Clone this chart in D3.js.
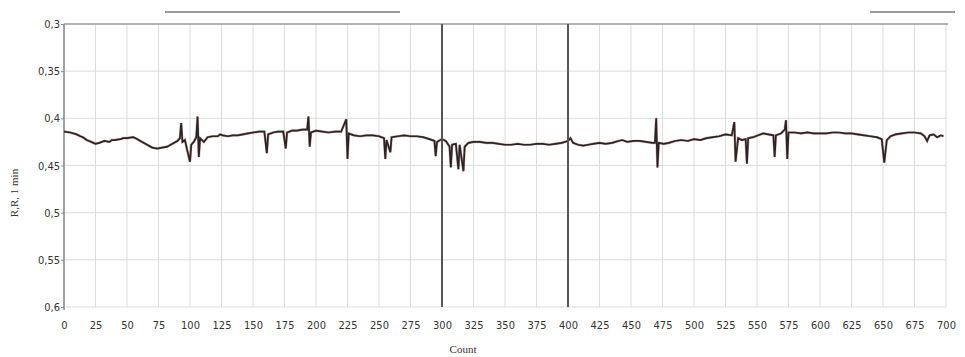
<!DOCTYPE html>
<html>
<head>
<meta charset="utf-8">
<script src="https://cdn.jsdelivr.net/npm/d3@7"></script>
<style>
  body { margin: 0; background: #fff; }
</style>
</head>
<body>
<svg id="chart" width="965" height="357"></svg>
<script>
// R-R interval series: [count, value]
const rrData = [
  [0,0.414],[5,0.415],[10,0.417],[13,0.419],[15,0.420],[18,0.423],[20,0.424],[25,0.427],[28,0.426],[32,0.424],
  [36,0.425],[38,0.423],[40,0.423],[45,0.422],[47,0.421],[50,0.421],[55,0.420],[58,0.422],[62,0.425],[66,0.428],
  [70,0.431],[74,0.432],[78,0.431],[82,0.430],[86,0.427],[90,0.424],[92,0.421],[93,0.405],
  [94,0.425],[96,0.423],[98,0.435],[100,0.446],[101,0.428],[103,0.425],[105,0.420],[106,0.398],
  [107,0.441],[108,0.421],[111,0.425],[114,0.420],[118,0.419],[122,0.419],[124,0.417],[126,0.418],[130,0.419],
  [134,0.418],[138,0.418],[142,0.417],[146,0.416],[150,0.415],[155,0.414],[159,0.414],[161,0.437],
  [162,0.417],[166,0.415],[170,0.414],[174,0.414],[176,0.432],[177,0.415],[181,0.413],[185,0.413],
  [189,0.412],[193,0.412],[194,0.398],[195,0.430],[196,0.415],[200,0.413],[205,0.414],[210,0.415],
  [215,0.414],[220,0.414],[224,0.401],[225,0.443],[226,0.416],[230,0.418],[235,0.419],[240,0.418],
  [245,0.418],[250,0.419],[254,0.421],[255,0.443],[256,0.423],[259,0.436],[260,0.420],[265,0.419],
  [270,0.418],[275,0.419],[280,0.419],[285,0.420],[290,0.422],[294,0.424],[295,0.440],[296,0.425],
  [300,0.422],[303,0.424],[306,0.430],[307,0.452],[308,0.428],[311,0.427],[313,0.454],[314,0.428],
  [317,0.456],[318,0.430],[321,0.426],[325,0.425],[330,0.425],[335,0.426],[340,0.426],[345,0.427],
  [350,0.428],[355,0.428],[360,0.427],[365,0.428],[370,0.428],[375,0.427],[380,0.427],[385,0.428],
  [390,0.427],[395,0.426],[400,0.424],[402,0.421],[404,0.426],[408,0.428],[412,0.429],[416,0.428],
  [420,0.427],[425,0.426],[430,0.427],[435,0.426],[440,0.424],[443,0.423],[447,0.425],[452,0.424],
  [457,0.424],[462,0.425],[467,0.426],[469,0.426],[470,0.400],[471,0.452],[472,0.426],[476,0.427],
  [480,0.426],[485,0.424],[490,0.423],[495,0.424],[500,0.422],[505,0.423],[510,0.421],[515,0.420],
  [520,0.419],[525,0.417],[530,0.418],[532,0.404],[533,0.446],[535,0.421],[538,0.423],[541,0.422],
  [542,0.448],[543,0.421],[547,0.420],[551,0.418],[555,0.416],[559,0.417],[563,0.418],[564,0.441],
  [565,0.418],[569,0.416],[572,0.412],[573,0.402],[574,0.443],[575,0.415],[580,0.415],[585,0.416],
  [590,0.415],[595,0.416],[600,0.416],[605,0.416],[610,0.415],[615,0.415],[620,0.416],[625,0.416],
  [630,0.417],[635,0.418],[640,0.419],[645,0.420],[649,0.422],[651,0.447],[653,0.423],[656,0.419],
  [660,0.417],[665,0.416],[670,0.415],[675,0.415],[680,0.416],[683,0.419],[685,0.424],[687,0.418],
  [690,0.417],[693,0.420],[696,0.418],[698,0.419]
];
const xTicks = d3.range(0, 701, 25);
const yTicks = [0.3, 0.35, 0.4, 0.45, 0.5, 0.55, 0.6];
const markers = [300, 400];

const svg = d3.select("#chart");
const mLeft = 64, mRight = 946, mTop = 24, mBottom = 307;
const sans = "'DejaVu Sans Condensed', 'DejaVu Sans', sans-serif";
const serif = "'Liberation Serif', serif";

const x = d3.scaleLinear().domain([0, 700]).range([mLeft, mRight]);
const y = d3.scaleLinear().domain([0.3, 0.6]).range([mTop, mBottom]);
const fmt = d => String(d).replace(".", ",");

// scrollbar-like bars above the plot
svg.append("line").attr("x1", 165).attr("x2", 400).attr("y1", 12).attr("y2", 12)
  .attr("stroke", "#999").attr("stroke-width", 2);
svg.append("line").attr("x1", 870).attr("x2", 955).attr("y1", 12).attr("y2", 12)
  .attr("stroke", "#999").attr("stroke-width", 2);

// grid
svg.append("g").selectAll("line").data(xTicks).enter().append("line")
  .attr("x1", d => x(d)).attr("x2", d => x(d))
  .attr("y1", mTop).attr("y2", mBottom)
  .attr("stroke", "#dcdcdc").attr("stroke-width", 1);
svg.append("g").selectAll("line").data(yTicks.slice(1)).enter().append("line")
  .attr("x1", mLeft).attr("x2", mRight)
  .attr("y1", d => y(d)).attr("y2", d => y(d))
  .attr("stroke", "#dcdcdc").attr("stroke-width", 1);

// top border and left axis
svg.append("line").attr("x1", mLeft).attr("x2", mRight + 2).attr("y1", y(0.3)).attr("y2", y(0.3))
  .attr("stroke", "#999").attr("stroke-width", 1.5);
svg.append("line").attr("x1", mLeft).attr("x2", mLeft).attr("y1", mTop).attr("y2", mBottom + 3)
  .attr("stroke", "#888").attr("stroke-width", 1.5);

// axes labels
const yAxis = svg.append("g").attr("transform", `translate(${mLeft},0)`)
  .call(d3.axisLeft(y).tickValues(yTicks).tickFormat(fmt).tickSize(3));
yAxis.select(".domain").remove();
yAxis.selectAll("line").attr("stroke", "#888");
yAxis.selectAll("text").style("font-family", sans).style("font-size", "11px")
  .style("fill", "#333").attr("x", -4);

const xAxis = svg.append("g").attr("transform", `translate(0,${mBottom})`)
  .call(d3.axisBottom(x).tickValues(xTicks).tickFormat(d3.format("d")).tickSize(0));
xAxis.select(".domain").remove();
xAxis.selectAll("text").style("font-family", sans).style("font-size", "11px")
  .style("fill", "#333").attr("y", 14);

svg.append("text").attr("x", 463).attr("y", 353).attr("text-anchor", "middle")
  .style("font-family", serif).style("font-size", "11px").style("fill", "#333").text("Count");
svg.append("text").attr("transform", "translate(18,193) rotate(-90)")
  .attr("text-anchor", "middle")
  .style("font-family", serif).style("font-size", "11px").style("fill", "#333").text("R,R, 1 min");

// series
const line = d3.line().x(d => x(d[0])).y(d => y(d[1]));
svg.append("path").datum(rrData).attr("d", line)
  .attr("fill", "none").attr("stroke", "#b46060").attr("stroke-width", 2.6).attr("opacity", 0.55);
svg.append("path").datum(rrData).attr("d", line)
  .attr("fill", "none").attr("stroke", "#262626").attr("stroke-width", 1.7);

// marker lines
svg.append("g").selectAll("line").data(markers).enter().append("line")
  .attr("x1", d => x(d)).attr("x2", d => x(d))
  .attr("y1", mTop).attr("y2", mBottom)
  .attr("stroke", "#555").attr("stroke-width", 2);
</script>
</body>
</html>
